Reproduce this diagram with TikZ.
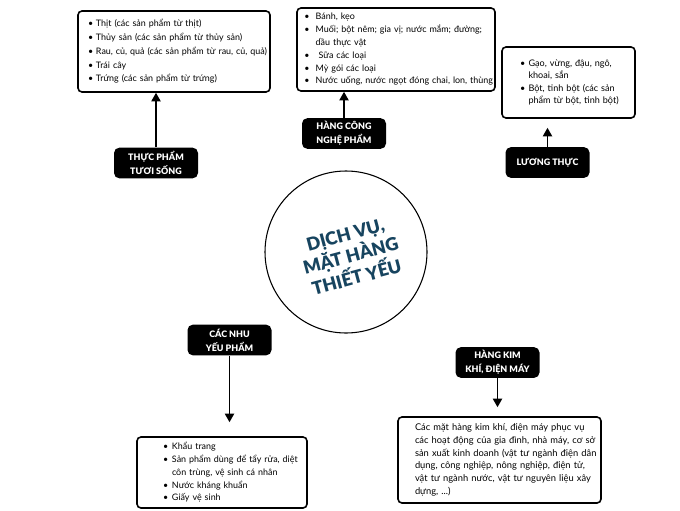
\documentclass[tikz,border=0pt]{standalone}
\usepackage{fontspec}
\setmainfont{Lato}
\newfontfamily\heavy{Lato Black}
\usetikzlibrary{arrows.meta}
\definecolor{navy}{HTML}{17445F}
\newlength\lo
\newlength\bw
\newcommand\li[1]{\hspace*{\lo}\makebox[\bw][l]{\textbullet}\mbox{#1}}
\newcommand\cl[1]{\hspace*{\lo}\hspace*{\bw}\mbox{#1}}
\newcommand\pl[1]{\hspace*{\lo}\mbox{#1}}
\begin{document}
\begin{tikzpicture}[x=0.75pt,y=-0.75pt,
  box/.style={draw, line width=1.2pt, rounded corners=3pt, fill=white, align=left,
    inner sep=0pt, font=\fontsize{6.7}{9.6}\selectfont},
  lab/.style={fill=black, rounded corners=4pt, text=white, align=center,
    font=\heavy\fontsize{6.7}{10.5}\selectfont, minimum width=63pt,
    minimum height=23pt, inner sep=0pt},
  arr/.style={line width=1.1pt, -{Triangle[width=7pt,length=6.5pt]}},
  hub/.style={circle, draw, line width=0.8pt, fill=white, minimum size=121.5pt, inner sep=0pt},
  hubtext/.style={text=navy, font=\heavy\fontsize{13.5}{13.2}\selectfont, align=center, rotate=15}
]
\useasboundingbox (0,0) rectangle (680,510);

% boxes
\node[box, minimum width=144pt, minimum height=60.75pt, text width=144pt,
  font=\fontsize{6.7}{10.3}\selectfont] (b1) at (174,51.5)
 {\setlength\lo{7.5pt}\setlength\bw{6pt}%
  \li{Thịt (các sản phẩm từ thịt)}\\
  \li{Thủy sản (các sản phẩm từ thủy sản)}\\
  \li{Rau, củ, quả (các sản phẩm từ rau, củ, quả)}\\
  \li{Trái cây}\\
  \li{Trứng (các sản phẩm từ trứng)}};

\node[box, minimum width=148.5pt, minimum height=62.25pt, text width=148.5pt] (b2) at (396,49.5)
 {\setlength\lo{5.5pt}\setlength\bw{8.5pt}%
  \li{Bánh, kẹo}\\
  \li{Muối; bột nêm; gia vị; nước mắm; đường;}\\
  \cl{dầu thực vật}\\
  \li{ Sữa các loại}\\
  \li{Mỳ gói các loại}\\
  \li{Nước uống, nước ngọt đóng chai, lon, thùng}};

\node[box, minimum width=99.75pt, minimum height=53.25pt, text width=99.75pt,
  font=\fontsize{6.8}{9.4}\selectfont] (b3) at (568.5,82.5)
 {\setlength\lo{13.5pt}\setlength\bw{6.4pt}%
  \li{Gạo, vừng, đậu, ngô,}\\
  \cl{khoai, sắn}\\
  \li{Bột, tinh bột (các sản}\\
  \cl{phẩm từ bột, tinh bột)}};

\node[box, minimum width=127.5pt, minimum height=53.25pt, text width=127.5pt,
  font=\fontsize{6.7}{9.6}\selectfont] (b4) at (222,472.5)
 {\setlength\lo{19.5pt}\setlength\bw{6.75pt}%
  \li{Khẩu trang}\\
  \li{Sản phẩm dùng để tẩy rửa, diệt}\\
  \cl{côn trùng, vệ sinh cá nhân}\\
  \li{Nước kháng khuẩn}\\
  \li{Giấy vệ sinh}};

\node[box, minimum width=152.25pt, minimum height=64.5pt, text width=152.25pt,
  font=\fontsize{7}{9.6}\selectfont] (b5) at (499.5,460)
 {\setlength\lo{12.75pt}%
  \pl{Các mặt hàng kim khí, điện máy phục vụ}\\
  \pl{các hoạt động của gia đình, nhà máy, cơ sở}\\
  \pl{sản xuất kinh doanh (vật tư ngành điện dân}\\
  \pl{dụng, công nghiệp, nông nghiệp, điện tử,}\\
  \pl{vật tư ngành nước, vật tư nguyên liệu xây}\\
  \pl{dựng, ...)}};

% labels
\node[lab] (l1) at (156,163) {THỰC PHẨM\\TƯƠI SỐNG};
\node[lab] (l2) at (344,133.5) {HÀNG CÔNG\\NGHỆ PHẨM};
\node[lab] (l3) at (547.5,162.5) {LƯƠNG THỰC};
\node[lab] (l4) at (229.5,340) {CÁC NHU\\YẾU PHẨM};
\node[lab] (l5) at (497.5,362.5) {HÀNG KIM\\KHÍ, ĐIỆN MÁY};

% hub
\node[hub] (hub) at (346,252) {};
\node[hubtext] (title) at (351,256) {DỊCH VỤ,\\MẶT HÀNG\\THIẾT YẾU};

% arrows
\draw[arr] (l1.north) -- (l1.north |- b1.south);
\draw[arr] (l2.north) -- (l2.north |- b2.south);
\draw[arr, shorten >=6.75pt] (l3.north) -- (l3.north |- b3.south);
\draw[arr, shorten >=10.5pt] (l4.south) -- (l4.south |- b4.north);
\draw[arr, shorten >=6.75pt] (l5.south) -- (l5.south |- b5.north);
\end{tikzpicture}
\end{document}
